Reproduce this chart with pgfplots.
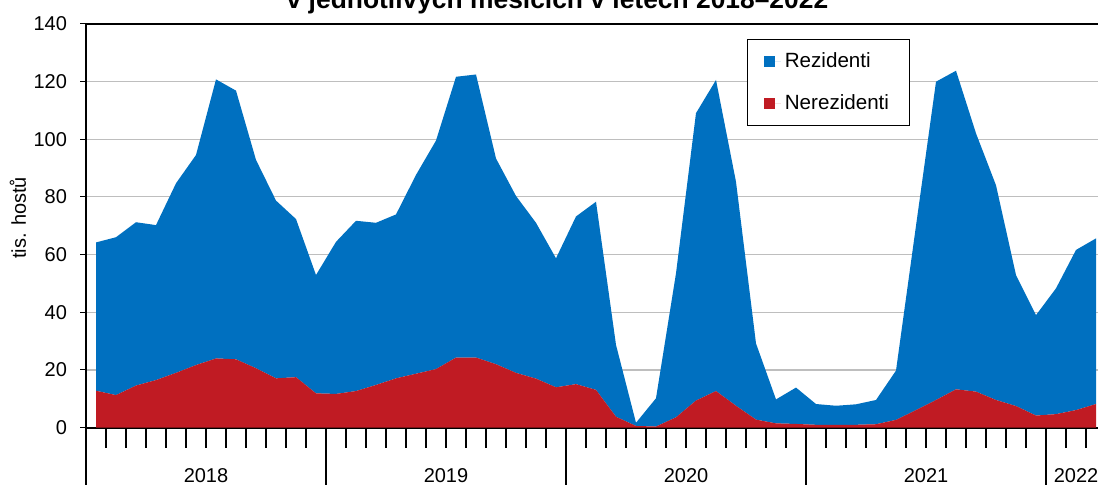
\documentclass[border=0pt]{standalone}
\usepackage{pgfplots}
\pgfplotsset{compat=1.18}
\usepackage{fontspec}
\setmainfont{Liberation Sans}
\definecolor{rez}{RGB}{0,112,192}
\definecolor{nerez}{RGB}{192,27,35}
\definecolor{gridgray}{RGB}{190,190,190}
\begin{document}
\begin{tikzpicture}
\node[anchor=base, font=\bfseries\fontsize{13.2}{15}\selectfont] at (278.75pt,238pt) {v jednotlivých měsících v letech 2018–2022};
\begin{axis}[
  at={(43pt,28.65pt)}, anchor=south west,
  scale only axis, width=510pt, height=202pt,
  xmin=-0.5, xmax=50.5, ymin=0, ymax=140,
  clip=false,
  stack plots=y,
  axis line style={black, line width=0.9pt},
  tick pos=left, tick align=outside,
  ytick={0,20,...,140},
  major tick length=3pt,
  ytick style={black, line width=0.5pt},
  ymajorgrids, grid style={gridgray, line width=0.6pt},
  xtick={-0.5,11.5,23.5,35.5,47.5},
  xticklabels={,,,,},
  xtick style={black, line width=0.9pt},
  minor xtick={-0.5,0.5,...,50.5},
  minor tick length=10pt,
  extra x ticks={-0.5,11.5,23.5,35.5,47.5},
  extra x tick labels={,,,,},
  extra x tick style={grid=none, major tick length=40pt},
  /pgf/number format/assume math mode=true,
  tick label style={font=\fontsize{10}{12}\selectfont},
  yticklabel style={xshift=-3pt},
  ylabel={tis. hostů},
  every axis y label/.style={at={(axis description cs:0,0.519)}, xshift=-34pt, rotate=90, anchor=center, font=\fontsize{10}{12}\selectfont},
  reverse legend,
  legend cell align=left,
  legend style={at={(axis description cs:0.6477,0.962)}, anchor=north west,
    draw=black, line width=0.6pt, fill=white,
    inner xsep=8.3pt, inner ysep=4.5pt, row sep=8pt,
    font=\fontsize{10.3}{12}\selectfont},
  legend image code/.code={\fill[#1] (0pt,-2.75pt) rectangle (5.5pt,2.75pt); \path (0pt,0pt) -- (8.5pt,0pt);},
]
\addplot[fill=nerez, draw=none] coordinates {
(0,12.8) (1,11.3) (2,14.6) (3,16.5) (4,19.0) (5,21.7) (6,24.0) (7,23.7) (8,20.6) (9,17.1) (10,17.5) (11,11.9)
(12,11.7) (13,12.7) (14,14.8) (15,17.1) (16,18.7) (17,20.3) (18,24.3) (19,24.3) (20,22.0) (21,19.0) (22,17.0) (23,14.0)
(24,15.1) (25,13.1) (26,3.8) (27,0.6) (28,0.4) (29,3.6) (30,9.4) (31,12.7) (32,7.6) (33,2.8) (34,1.5) (35,1.3)
(36,1.0) (37,1.0) (38,1.0) (39,1.2) (40,2.7) (41,6.1) (42,9.6) (43,13.3) (44,12.5) (45,9.6) (46,7.5) (47,4.2)
(48,4.7) (49,6.1) (50,8.2)
} \closedcycle;
\addlegendentry{Nerezidenti}
\addplot[fill=rez, draw=none] coordinates {
(0,51.4) (1,54.7) (2,56.6) (3,53.7) (4,65.7) (5,72.8) (6,96.7) (7,93.1) (8,72.2) (9,61.6) (10,54.8) (11,41.0)
(12,52.7) (13,59.0) (14,56.2) (15,56.8) (16,68.9) (17,79.2) (18,97.3) (19,98.1) (20,71.3) (21,61.3) (22,54.0) (23,44.7)
(24,58.1) (25,65.2) (26,24.9) (27,1.1) (28,9.8) (29,49.9) (30,99.6) (31,107.8) (32,77.6) (33,26.4) (34,8.3) (35,12.6)
(36,7.2) (37,6.6) (38,7.1) (39,8.4) (40,17.1) (41,63.9) (42,110.3) (43,110.4) (44,89.5) (45,74.4) (46,45.4) (47,34.8)
(48,43.6) (49,55.5) (50,57.4)
} \closedcycle;
\addlegendentry{Rezidenti}
\draw[black, line width=0.9pt] (rel axis cs:0,0) -- (rel axis cs:1,0);
\node[anchor=base, yshift=-27.5pt, font=\fontsize{10}{12}\selectfont] at (axis cs:5.5,0) {2018};
\node[anchor=base, yshift=-27.5pt, font=\fontsize{10}{12}\selectfont] at (axis cs:17.5,0) {2019};
\node[anchor=base, yshift=-27.5pt, font=\fontsize{10}{12}\selectfont] at (axis cs:29.5,0) {2020};
\node[anchor=base, yshift=-27.5pt, font=\fontsize{10}{12}\selectfont] at (axis cs:41.5,0) {2021};
\node[anchor=base, yshift=-27.5pt, font=\fontsize{10}{12}\selectfont] at (axis cs:49,0) {2022};
\end{axis}
\pgfresetboundingbox
\useasboundingbox (0pt,0pt) rectangle (549pt,242.5pt);
\end{tikzpicture}
\end{document}
